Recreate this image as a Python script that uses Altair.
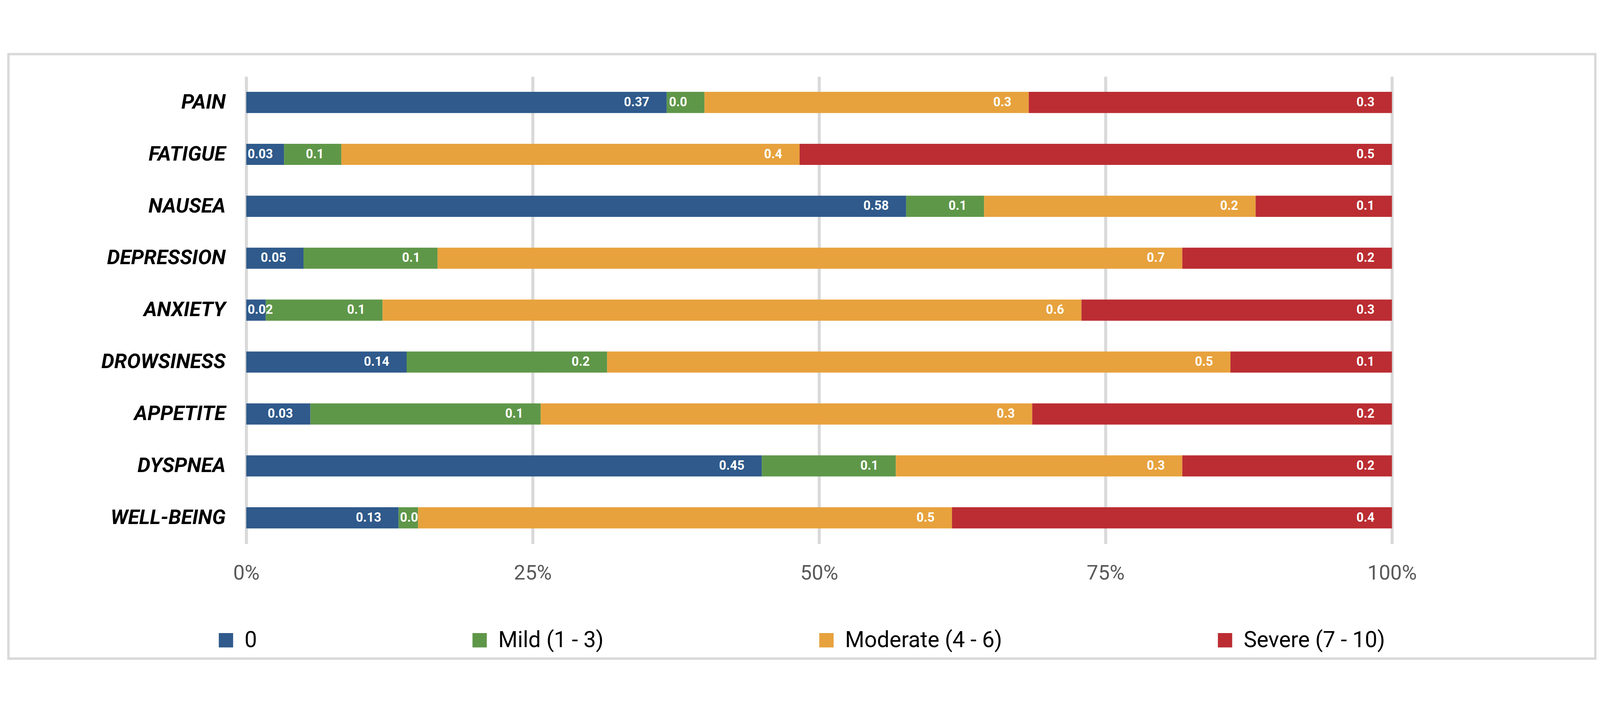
import altair as alt
import pandas as pd

categories = ["PAIN", "FATIGUE", "NAUSEA", "DEPRESSION", "ANXIETY",
              "DROWSINESS", "APPETITE", "DYSPNEA", "WELL-BEING"]
series = ["0", "Mild (1 - 3)", "Moderate (4 - 6)", "Severe (7 - 10)"]
colors = ["#2F5A8B", "#5F9749", "#E7A23D", "#BB2D32"]

none_vals = [0.367, 0.033, 0.576, 0.050, 0.017, 0.140, 0.056, 0.450, 0.133]
mild_vals = [0.033, 0.050, 0.068, 0.117, 0.102, 0.175, 0.201, 0.117, 0.017]
moderate_vals = [0.283, 0.400, 0.237, 0.650, 0.610, 0.544, 0.429, 0.250, 0.466]
severe_vals = [0.317, 0.517, 0.119, 0.183, 0.271, 0.141, 0.314, 0.183, 0.384]

none_labels = ["0.37", "0.03", "0.58", "0.05", "0.02", "0.14", "0.03", "0.45", "0.13"]
mild_labels = ["0.0", "0.1", "0.1", "0.1", "0.1", "0.2", "0.1", "0.1", "0.0"]
moderate_labels = ["0.3", "0.4", "0.2", "0.7", "0.6", "0.5", "0.3", "0.3", "0.5"]
severe_labels = ["0.3", "0.5", "0.1", "0.2", "0.3", "0.1", "0.2", "0.2", "0.4"]

x_ticks = [0, 0.25, 0.5, 0.75, 1.0]

PLOT_W = 3360
PLOT_H = 1370
LABEL_FS = 37
LABEL_DX = 51

all_vals = [none_vals, mild_vals, moderate_vals, severe_vals]
all_labels = [none_labels, mild_labels, moderate_labels, severe_labels]


def text_w(s):
    return sum(0.27 if c == "." else 0.562 for c in s) * LABEL_FS


rows = []
for i, cat in enumerate(categories):
    total = sum(v[i] for v in all_vals)
    cum = 0.0
    for k, name in enumerate(series):
        v = all_vals[k][i] / total
        start, end = cum, cum + v
        cum = end
        lab = all_labels[k][i]
        clamp = (v * PLOT_W) < (text_w(lab) + LABEL_DX + 4)
        rows.append({"category": cat, "series": name, "order": k,
                     "start": start, "end": end, "label": lab,
                     "clamp": bool(clamp)})
df = pd.DataFrame(rows)

y_enc = alt.Y("category:N", sort=categories,
              scale=alt.Scale(domain=categories, paddingInner=0.593, paddingOuter=0.2965),
              axis=alt.Axis(title=None, labelFont="Roboto", labelFontSize=60,
                            labelFontWeight="bold", labelFontStyle="italic",
                            labelColor="#000000", labelPadding=61, ticks=False,
                            tickSize=0, domain=False, grid=False, labelLimit=1000))

x_scale = alt.Scale(domain=[0, 1], nice=False, zero=True)

base = alt.Chart(df)

bars = base.mark_bar().encode(
    x=alt.X("start:Q", scale=x_scale,
            axis=alt.Axis(title=None, values=x_ticks, format=".0%", grid=True,
                          gridColor="#D9D9D9", gridWidth=9, domain=False,
                          ticks=False, tickSize=0, labelFont="Roboto",
                          labelFontSize=60, labelColor="#595959",
                          labelPadding=57, labelFlush=False)),
    x2="end:Q",
    y=y_enc,
    color=alt.Color("series:N", sort=series,
                    scale=alt.Scale(domain=series, range=colors),
                    legend=alt.Legend(title=None, orient="none", legendX=-92,
                                      legendY=1620, direction="horizontal",
                                      columns=4, symbolType="square",
                                      symbolSize=1764, symbolStrokeWidth=0,
                                      labelFont="Roboto", labelFontSize=65,
                                      labelColor="#000000", labelOffset=22,
                                      columnPadding=620, padding=0,
                                      labelLimit=2000)),
    order=alt.Order("order:Q"),
)

text_inside = base.transform_filter("!datum.clamp").mark_text(
    align="right", baseline="middle", dx=-LABEL_DX, color="white",
    font="Roboto", fontSize=LABEL_FS, fontWeight="bold"
).encode(x=alt.X("end:Q", scale=x_scale), y=alt.Y("category:N", sort=categories),
         text="label:N")

text_clamped = base.transform_filter("datum.clamp").mark_text(
    align="left", baseline="middle", dx=4, color="white",
    font="Roboto", fontSize=LABEL_FS, fontWeight="bold"
).encode(x=alt.X("start:Q", scale=x_scale), y=alt.Y("category:N", sort=categories),
         text="label:N")

frame_df = pd.DataFrame({"f": [1]})
frame = alt.Chart(frame_df).mark_rect(
    fillOpacity=0, stroke="#D9D9D9", strokeWidth=7
).encode(x=alt.value(-697.5), x2=alt.value(3956.5),
         y=alt.value(-65.5), y2=alt.value(1706.5))

chart = alt.layer(frame, bars, text_inside, text_clamped).properties(
    width=PLOT_W, height=PLOT_H,
    autosize=alt.AutoSizeParams(type="none"),
    padding={"left": 713, "top": 84, "right": 601, "bottom": 346},
    background="white",
).configure_view(strokeWidth=0)

chart.save("out.html", embed_options={"renderer": "svg", "actions": False})
